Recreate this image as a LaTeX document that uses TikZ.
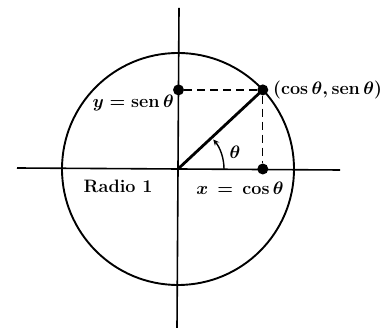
\RequirePackage{fix-cm}
\documentclass[tikz,border=0pt]{standalone}
\usetikzlibrary{arrows.meta,calc}
\begin{document}
\begin{tikzpicture}[x=1pt,y=1pt,
  axis/.style={line width=1.6pt},
  dot/.style={circle,fill=black,inner sep=0pt,minimum size=11pt},
  lbl/.style={font=\fontsize{18}{21}\selectfont\bfseries\boldmath,inner sep=1pt},
  guide/.style={line width=1.3pt,dash pattern=on 8pt off 5pt}]
\useasboundingbox (0,0) rectangle (387,328);
\coordinate (O) at (178,159);
\coordinate (top) at (179,320);
\coordinate (bot) at (177,0);
\coordinate (left) at (17,160);
\coordinate (right) at (340,158);
\draw[axis] (top) -- (bot);
\draw[axis] (left) -- (right);
\draw[line width=1.9pt] (O) circle[radius=116];
\coordinate (P) at (262.8,238.1);
\draw[line width=2.8pt] (O) -- (P);
\node[dot] (Pd) at (P) {};
\node[dot] (Yd) at (178.5,238.1) {};
\node[dot] (Xd) at (262.8,159) {};
\draw[guide] (Yd) -- (Pd);
\draw[guide] (Pd) -- (Xd);
\draw[line width=1.4pt,-{Stealth[length=6pt,width=5.5pt]}] ($(O)+(46,0)$) arc[start angle=0,end angle=40,radius=46];
\node[lbl,anchor=east] (ylab) at (175,225) {$y = \mathrm{sen}\,\theta$};
\node[lbl] (rlab) at (118,142) {Radio 1};
\node[lbl] (xlab) at (240,140) {$x\, = \,\cos\theta$};
\node[lbl] (tlab) at (235,176) {$\theta$};
\node[lbl,anchor=west] (plab) at (272,238) {$(\cos\theta, \mathrm{sen}\,\theta)$};
\end{tikzpicture}
\end{document}
